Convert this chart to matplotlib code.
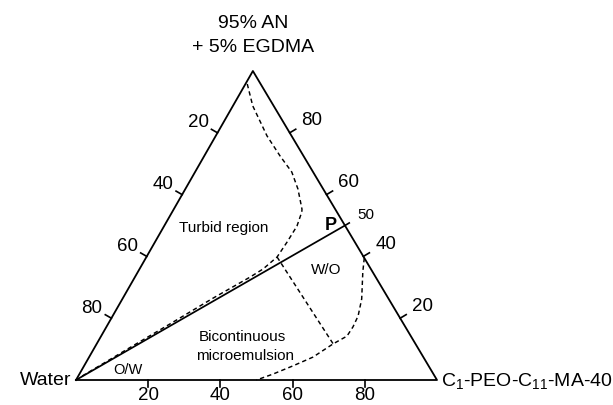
import matplotlib
matplotlib.use('Agg')
import matplotlib.pyplot as plt
import numpy as np

plt.rcParams['font.family'] = ['Liberation Sans', 'DejaVu Sans']
plt.rcParams['mathtext.default'] = 'regular'

# compositions in % : S = C1-PEO-C11-MA-40, A = 95% AN + 5% EGDMA (water = rest)
turbid_S = [0.5, 5.5, 14.2, 21.0, 26.8, 31.2, 35.5, 35.9, 36.8, 36.6, 36.2, 34.2, 31.9, 25.0, 17.2, 10.0, 5.0, 1.0]
turbid_A = [95.8, 88.7, 79.0, 72.5, 67.3, 61.8, 55.3, 54.4, 49.8, 44.7, 39.8, 35.9, 33.3, 26.5, 18.2, 10.7, 5.4, 1.2]

wo_S = [36.2, 65.5]
wo_A = [39.8, 11.7]

outer_S = [60.5, 62.3, 66.3, 68.0, 68.3, 68.1, 65.5, 62.0, 57.9, 53.6, 50.0]
outer_A = [39.5, 35.0, 26.2, 20.7, 17.2, 14.2, 11.7, 7.4, 4.6, 1.9, 0.0]

p_S, p_A = 50, 50

bottom_ticks = [20, 40, 60, 80]   # surfactant %
left_ticks = [20, 40, 60, 80]     # water %
right_ticks = [20, 40, 60, 80]    # AN %

SKEW = 0.49  # top vertex sits a little left of centre
W_PX, H_PX = 361, 309


def cart(s, a):
    s = np.asarray(s, dtype=float) / 100
    a = np.asarray(a, dtype=float) / 100
    return s + SKEW * a, a


def px(dx, dy):
    # pixel offset (y down) -> data offset
    return dx / W_PX, -dy / H_PX


fig = plt.figure(figsize=(6.13, 4.06), dpi=100)
ax = fig.add_axes([76 / 613, 25 / 406, W_PX / 613, H_PX / 406])
ax.set_xlim(0, 1)
ax.set_ylim(0, 1)
ax.axis('off')

k = dict(color='black', clip_on=False)
ax.plot([0, 1, SKEW, 0], [0, 0, 1, 0], lw=1.3, **k)

dash = (0, (3.0, 2.2))
x, y = cart(turbid_S, turbid_A)
ax.plot(x, y, lw=1.05, linestyle=dash, **k)
x, y = cart(wo_S, wo_A)
ax.plot(x, y, lw=1.05, linestyle=dash, **k)
x, y = cart(outer_S, outer_A)
ax.plot(x, y, lw=1.05, linestyle=dash, **k)

x, y = cart([0, p_S], [0, p_A])
ax.plot(x, y, lw=1.25, **k)

fs = 13.5
tl = 7
# bottom
for v in bottom_ticks:
    x, y = cart(v, 0)
    dx, dy = px(0, tl)
    ax.plot([x, x + dx], [y, y + dy], lw=1.2, **k)
    ax.annotate(str(v), (x, y), xytext=(0, -10.5), textcoords='offset points',
                ha='center', va='center', fontsize=fs)
# left (water)
for v in left_ticks:
    x, y = cart(0, 100 - v)
    dx, dy = px(-0.868 * tl, -0.497 * tl)
    ax.plot([x, x + dx], [y, y + dy], lw=1.2, **k)
    ax.annotate(str(v), (x, y), xytext=(-14, 8), textcoords='offset points',
                ha='center', va='center', fontsize=fs)
# right (AN)
for v in right_ticks:
    x, y = cart(100 - v, v)
    dx, dy = px(0.859 * tl, -0.512 * tl)
    ax.plot([x, x + dx], [y, y + dy], lw=1.2, **k)
    ax.annotate(str(v), (x, y), xytext=(16, 9.5), textcoords='offset points',
                ha='center', va='center', fontsize=fs)
x, y = cart(p_S, p_A)
dx, dy = px(0.859 * 5, -0.512 * 5)
ax.plot([x, x + dx], [y, y + dy], lw=1.2, **k)
ax.annotate('50', (x, y), xytext=(15, 8), textcoords='offset points',
            ha='center', va='center', fontsize=11)
ax.annotate('P', (x, y), xytext=(-10, 1), textcoords='offset points',
            ha='center', va='center', fontsize=13, fontweight='bold')

# vertex labels
fig.text(253 / 613, 1 - 23 / 406, '95% AN', ha='center', va='center', fontsize=14)
fig.text(253 / 613, 1 - 48 / 406, '+ 5% EGDMA', ha='center', va='center', fontsize=14)
fig.text(71 / 613, 1 - 381 / 406, 'Water', ha='right', va='center', fontsize=14)
fig.text(441 / 613, 1 - 381 / 406, r'C$_1$-PEO-C$_{11}$-MA-40', ha='left',
         va='center', fontsize=14)

# region labels
fig.text(224 / 613, 1 - 228 / 406, 'Turbid region', ha='center', va='center', fontsize=11)
fig.text(326 / 613, 1 - 270 / 406, 'W/O', ha='center', va='center', fontsize=11)
fig.text(242 / 613, 1 - 337 / 406, 'Bicontinuous', ha='center', va='center', fontsize=11)
fig.text(245 / 613, 1 - 356 / 406, 'microemulsion', ha='center', va='center', fontsize=11)
fig.text(128 / 613, 1 - 370 / 406, 'O/W', ha='center', va='center', fontsize=10.5)

fig.savefig('out.png', dpi=100)
